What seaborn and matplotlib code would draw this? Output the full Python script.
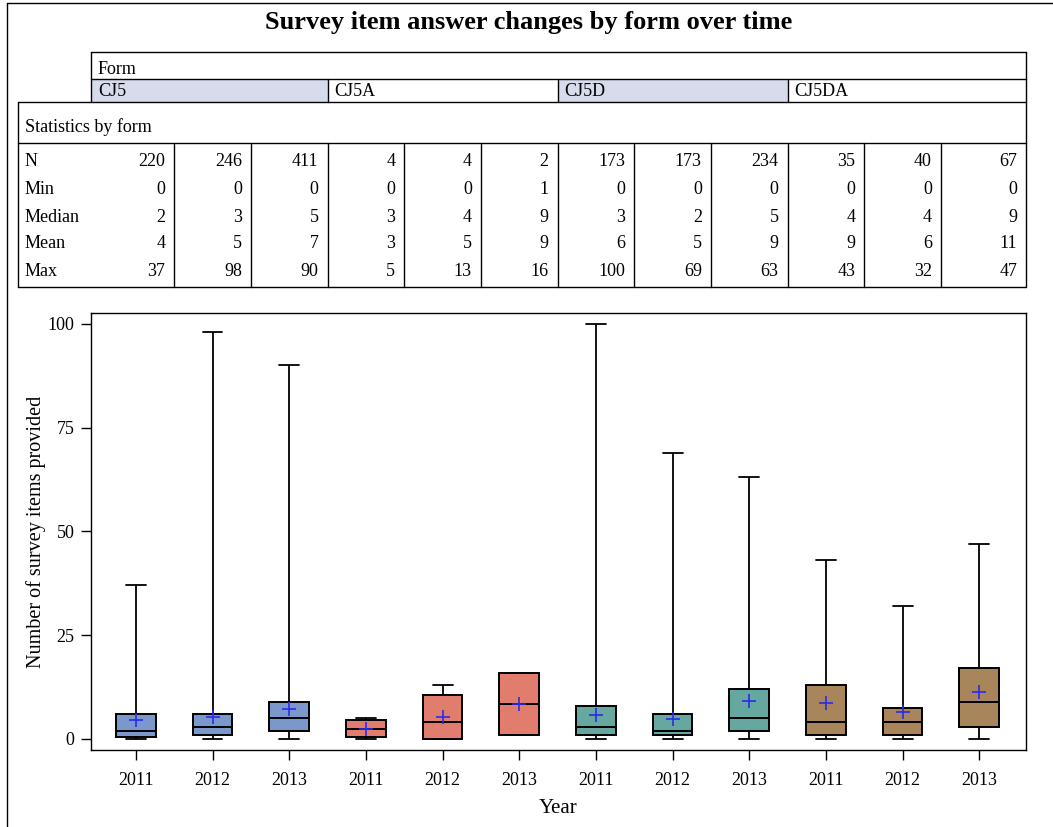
import numpy as np
import pandas as pd
import matplotlib
matplotlib.use("Agg")
import matplotlib.pyplot as plt
from matplotlib.patches import Rectangle
from matplotlib.lines import Line2D
import seaborn as sns

# ---------------- data ----------------
forms = ["CJ5", "CJ5A", "CJ5D", "CJ5DA"]
years = ["2011", "2012", "2013"]
form_of_box = ["CJ5"] * 3 + ["CJ5A"] * 3 + ["CJ5D"] * 3 + ["CJ5DA"] * 3
year_of_box = years * 4

stat_n = [220, 246, 411, 4, 4, 2, 173, 173, 234, 35, 40, 67]
stat_min = [0, 0, 0, 0, 0, 1, 0, 0, 0, 0, 0, 0]
stat_median = [2, 3, 5, 3, 4, 9, 3, 2, 5, 4, 4, 9]
stat_mean = [4, 5, 7, 3, 5, 9, 6, 5, 9, 9, 6, 11]
stat_max = [37, 98, 90, 5, 13, 16, 100, 69, 63, 43, 32, 47]

# box geometry
box_min = [0, 0, 0, 0, 0, 1, 0, 0, 0, 0, 0, 0]
box_q1 = [0.6, 1, 2, 0.5, 0, 1, 1, 1, 2, 1, 1, 3]
box_med = [2, 3, 5, 2.5, 4, 8.5, 3, 2, 5, 4, 4, 9]
box_q3 = [6, 6, 9, 4.5, 10.5, 16, 8, 6, 12, 13, 7.5, 17]
box_max = [37, 98, 90, 5, 13, 16, 100, 69, 63, 43, 32, 47]
box_mean = [4.5, 5.2, 7.2, 2.5, 5.2, 8.5, 5.9, 4.9, 9.2, 8.6, 6.6, 11.3]

palette = {"CJ5": "#7B97CC", "CJ5A": "#E07D6D", "CJ5D": "#66A8A0", "CJ5DA": "#A8855A"}
header_fill = {"CJ5": "#D6DCEC", "CJ5A": "white", "CJ5D": "#D6DCEC", "CJ5DA": "white"}

# ---------------- build long table ----------------
keys = [f"{f} {y}" for f, y in zip(form_of_box, year_of_box)]
rows = []
for k, f, a, b, c, d, e in zip(keys, form_of_box, box_min, box_q1, box_med, box_q3, box_max):
    for v in (a, b, c, d, e):
        rows.append({"key": k, "form": f, "value": v})
df = pd.DataFrame(rows)

W, H = 1053, 827
sns.set_theme(style="white")
plt.rcParams["font.family"] = ["Liberation Serif", "DejaVu Serif"]
plt.rcParams["text.color"] = "black"
plt.rcParams["axes.labelcolor"] = "black"
plt.rcParams["xtick.color"] = "black"
plt.rcParams["ytick.color"] = "black"

fig = plt.figure(figsize=(W / 100, H / 100), dpi=100)
ax = fig.add_axes([91 / W, 1 - 750 / H, (1026 - 91) / W, (750 - 313) / H])

BOXW = 0.52
sns.boxplot(data=df, x="key", y="value", hue="form", order=keys, hue_order=forms,
            palette=palette, dodge=False, width=BOXW, whis=(0, 100), legend=False,
            saturation=1, linecolor="black", linewidth=1.4, ax=ax,
            medianprops={"color": "black", "linewidth": 1.4},
            capprops={"color": "black", "linewidth": 1.3},
            whiskerprops={"color": "black", "linewidth": 1.3})

# narrow the whisker caps to half the box width
for ln in ax.lines:
    xd = np.asarray(ln.get_xdata(), dtype=float)
    yd = np.asarray(ln.get_ydata(), dtype=float)
    if len(xd) == 2 and yd[0] == yd[1]:
        span = abs(xd[1] - xd[0])
        if 0.3 < span < BOXW - 0.04:
            c = xd.mean()
            ln.set_xdata([c - BOXW / 4, c + BOXW / 4])

ax.scatter(np.arange(len(keys)), box_mean, marker="+", color="#2B2BF0", s=100,
           linewidths=1.2, zorder=5)

ax.set_xlim(-0.585, 11.61)
ax.set_ylim(-2.65, 102.6)
ax.set_yticks([0, 25, 50, 75, 100])
ax.set_xticks(np.arange(len(keys)))
ax.set_xticklabels(year_of_box)
ax.tick_params(axis="both", which="both", length=7, width=1, color="black",
               labelsize=13, direction="out", bottom=True, left=True)
ax.tick_params(axis="x", pad=9)
ax.tick_params(axis="y", pad=5)
for s in ax.spines.values():
    s.set_color("black")
    s.set_linewidth(1)
ax.set_xlabel("Year", fontsize=15, labelpad=7)
ax.set_ylabel("Number of survey items provided", fontsize=14.5, labelpad=1)

# ---------------- tables above ----------------
TFS = 13

def fx(px):
    return px / W

def fy(py):
    return 1 - py / H

def hline(x0, x1, y, lw=1.0):
    fig.add_artist(Line2D([fx(x0), fx(x1)], [fy(y), fy(y)], color="black", lw=lw,
                          transform=fig.transFigure))

def vline(x, y0, y1, lw=1.0):
    fig.add_artist(Line2D([fx(x), fx(x)], [fy(y0), fy(y1)], color="black", lw=lw,
                          transform=fig.transFigure))

fig.canvas.draw()
def data_to_px(xd):
    disp = ax.transData.transform((xd, 0))
    return disp[0]

ax_left = 91
ax_right = 1026

# Form header
form_edges = [ax_left] + [data_to_px(b) for b in (2.5, 5.5, 8.5)] + [ax_right]
for i, f in enumerate(forms):
    fig.add_artist(Rectangle((fx(form_edges[i]), fy(102)), fx(form_edges[i + 1]) - fx(form_edges[i]),
                             fy(79) - fy(102), transform=fig.transFigure,
                             facecolor=header_fill[f], edgecolor="none"))
    fig.text(fx(form_edges[i] + 7), fy(92), f, fontsize=TFS, ha="left", va="center")
    if i > 0:
        vline(form_edges[i], 79, 102)
hline(ax_left, ax_right, 52)
hline(ax_left, ax_right, 79)
vline(ax_left, 52, 102)
vline(ax_right, 52, 102)
fig.text(fx(98), fy(69), "Form", fontsize=TFS, ha="left", va="center")

# Statistics table
t_left = 18
hline(t_left, ax_right, 102)
hline(t_left, ax_right, 143)
hline(t_left, ax_right, 287)
vline(t_left, 102, 287)
vline(ax_right, 102, 287)
fig.text(fx(25), fy(127), "Statistics by form", fontsize=TFS, ha="left", va="center")

col_right = [data_to_px(i + 0.5) for i in range(len(keys) - 1)] + [ax_right]
for x in col_right[:-1]:
    vline(x, 143, 287)

row_names = ["N", "Min", "Median", "Mean", "Max"]
row_vals = [stat_n, stat_min, stat_median, stat_mean, stat_max]
row_y = [162, 189, 217, 244, 271]
for name, vals, y in zip(row_names, row_vals, row_y):
    fig.text(fx(25), fy(y), name, fontsize=TFS, ha="left", va="center")
    for xr, v in zip(col_right, vals):
        fig.text(fx(xr - 9), fy(y), str(v), fontsize=TFS, ha="right", va="center")

# Title
fig.text(fx(529), fy(22), "Survey item answer changes by form over time",
         fontsize=19, fontweight="bold", ha="center", va="center")

# outer frame (only top and left edges fall inside the image)
hline(7, 1053, 3)
vline(7, 3, 827)

fig.savefig("out.png", dpi=100)
